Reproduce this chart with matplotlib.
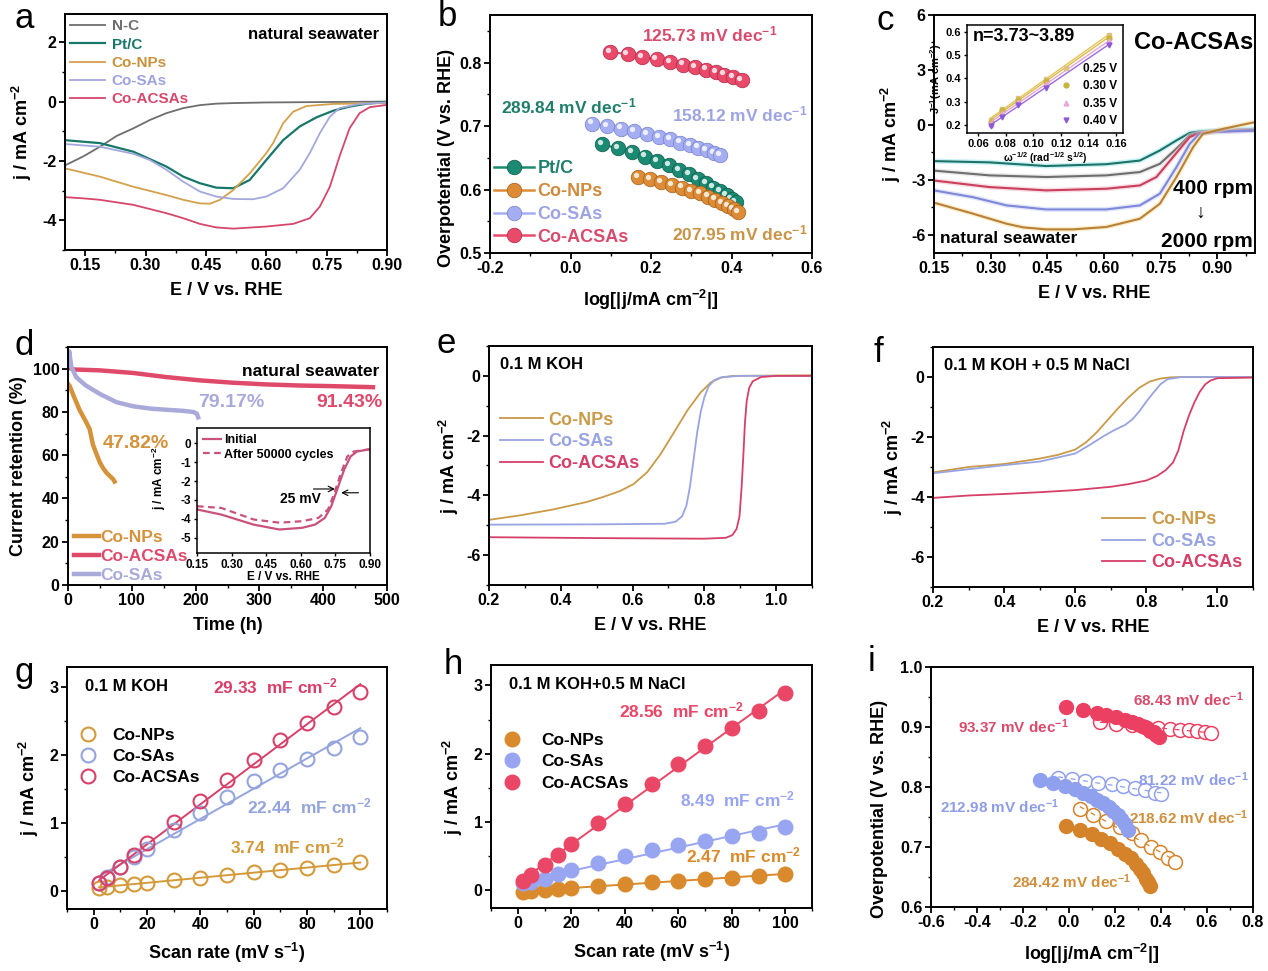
import numpy as np
import matplotlib.pyplot as plt
from matplotlib.ticker import AutoMinorLocator
from matplotlib.transforms import offset_copy

# ---------------- data ----------------
# (a) LSV in natural seawater
a_nc_E = [0.10, 0.145, 0.187, 0.228, 0.27, 0.311, 0.352, 0.394, 0.435, 0.476, 0.52, 0.60, 0.70, 0.80, 0.90]
a_nc_j = [-2.15, -1.85, -1.52, -1.16, -0.9, -0.62, -0.39, -0.22, -0.12, -0.07, -0.05, -0.03, -0.02, -0.01, 0.0]
a_pt_E = [0.10, 0.187, 0.27, 0.352, 0.394, 0.435, 0.476, 0.518, 0.559, 0.60, 0.642, 0.683, 0.725, 0.766, 0.807, 0.85, 0.90]
a_pt_j = [-1.3, -1.4, -1.69, -2.19, -2.53, -2.75, -2.9, -2.92, -2.64, -1.97, -1.3, -0.84, -0.53, -0.31, -0.17, -0.07, -0.02]
a_np_E = [0.10, 0.187, 0.27, 0.352, 0.394, 0.435, 0.46, 0.485, 0.518, 0.559, 0.60, 0.617, 0.642, 0.667, 0.70, 0.766, 0.90]
a_np_j = [-2.25, -2.53, -2.87, -3.15, -3.31, -3.43, -3.44, -3.31, -2.98, -2.42, -1.74, -1.4, -0.73, -0.34, -0.15, -0.08, -0.05]
a_sa_E = [0.10, 0.187, 0.27, 0.311, 0.352, 0.394, 0.435, 0.476, 0.518, 0.567, 0.60, 0.642, 0.683, 0.708, 0.733, 0.758, 0.782, 0.832, 0.90]
a_sa_j = [-1.43, -1.52, -1.76, -1.97, -2.3, -2.7, -3.03, -3.2, -3.28, -3.29, -3.2, -2.92, -2.3, -1.74, -1.07, -0.51, -0.22, -0.08, -0.03]
a_ac_E = [0.10, 0.145, 0.187, 0.27, 0.352, 0.394, 0.435, 0.476, 0.518, 0.60, 0.667, 0.708, 0.733, 0.758, 0.782, 0.807, 0.832, 0.857, 0.90]
a_ac_j = [-3.22, -3.26, -3.31, -3.48, -3.76, -3.93, -4.12, -4.24, -4.28, -4.21, -4.12, -3.93, -3.54, -2.87, -1.85, -0.9, -0.39, -0.19, -0.11]

# (b) Tafel plots
b_pt_x = [0.078, 0.118, 0.153, 0.186, 0.216, 0.245, 0.27, 0.294, 0.316, 0.336, 0.355, 0.372, 0.388, 0.40, 0.41]
b_pt_y = [0.671, 0.665, 0.659, 0.652, 0.645, 0.638, 0.631, 0.624, 0.617, 0.610, 0.603, 0.597, 0.591, 0.585, 0.580]
b_np_x = [0.167, 0.197, 0.225, 0.252, 0.277, 0.30, 0.322, 0.342, 0.36, 0.377, 0.392, 0.405, 0.416]
b_np_y = [0.620, 0.616, 0.612, 0.607, 0.603, 0.598, 0.594, 0.589, 0.584, 0.579, 0.574, 0.569, 0.565]
b_sa_x = [0.053, 0.09, 0.125, 0.158, 0.19, 0.22, 0.248, 0.273, 0.297, 0.318, 0.338, 0.356, 0.372]
b_sa_y = [0.704, 0.700, 0.696, 0.692, 0.687, 0.683, 0.679, 0.674, 0.670, 0.666, 0.662, 0.658, 0.654]
b_ac_x = [0.098, 0.142, 0.178, 0.214, 0.248, 0.279, 0.309, 0.336, 0.361, 0.382, 0.404, 0.425]
b_ac_y = [0.817, 0.813, 0.809, 0.805, 0.801, 0.797, 0.793, 0.789, 0.785, 0.781, 0.777, 0.773]

# (c) RDE curves of Co-ACSAs, 400 -> 2000 rpm
c_E1 = [0.15, 0.297, 0.447, 0.606, 0.695, 0.748, 0.792, 0.827, 0.853, 0.90, 1.0]
c_j400 = [-1.98, -2.05, -2.25, -2.15, -1.95, -1.4, -0.85, -0.44, -0.36, -0.3, -0.22]
c_j800 = [-2.5, -2.76, -2.85, -2.76, -2.58, -2.13, -1.3, -0.58, -0.42, -0.34, -0.27]
c_E3 = [0.15, 0.297, 0.447, 0.606, 0.695, 0.739, 0.783, 0.827, 0.853, 0.90, 1.0]
c_j1200 = [-3.04, -3.4, -3.58, -3.49, -3.31, -2.85, -1.76, -0.67, -0.45, -0.36, -0.3]
c_E4 = [0.15, 0.253, 0.342, 0.447, 0.606, 0.695, 0.748, 0.792, 0.827, 0.853, 0.90, 1.0]
c_j1600 = [-3.58, -3.95, -4.4, -4.62, -4.62, -4.4, -3.76, -2.31, -1.04, -0.49, -0.38, -0.31]
c_E5 = [0.15, 0.253, 0.342, 0.386, 0.447, 0.518, 0.606, 0.695, 0.748, 0.792, 0.836, 0.862, 0.915, 1.0]
c_j2000 = [-4.25, -4.85, -5.4, -5.6, -5.71, -5.71, -5.58, -5.13, -4.31, -2.85, -1.22, -0.49, -0.22, 0.15]
# inset K-L plot
kl_x = [0.0691, 0.0773, 0.0892, 0.1093, 0.1545]
kl_025 = [0.222, 0.270, 0.316, 0.396, 0.588]
kl_030 = [0.214, 0.262, 0.306, 0.389, 0.576]
kl_035 = [0.205, 0.250, 0.298, 0.375, 0.560]
kl_040 = [0.195, 0.236, 0.286, 0.360, 0.545]

# (d) chronoamperometry
d_ac_t = [0, 3, 10, 50, 102, 154, 206, 258, 311, 363, 415, 478]
d_ac_r = [101, 100.2, 99.6, 99.2, 98, 96.1, 94.6, 93.5, 92.7, 92.2, 91.9, 91.43]
d_sa_t = [0, 2, 5, 13, 28, 50, 76, 102, 130, 154, 180, 196, 202, 204]
d_sa_r = [102, 108, 101, 96, 92.2, 88.3, 84.5, 82.6, 81.5, 81, 80.5, 80, 79.17, 77.5]
d_np_t = [0, 2.6, 8, 13, 18, 23.5, 29, 34, 39, 44, 50, 55, 60, 65, 70.5, 73]
d_np_r = [93, 92, 88, 84.5, 81, 78, 75, 72, 65, 61, 56.6, 54, 52, 50.5, 49, 47.82]
# inset: before / after 50000 cycles
d_init_E = [0.15, 0.255, 0.395, 0.507, 0.606, 0.662, 0.704, 0.732, 0.76, 0.788, 0.816, 0.844, 0.90]
d_init_j = [-3.5, -3.77, -4.3, -4.56, -4.47, -4.3, -3.95, -3.33, -2.37, -1.4, -0.7, -0.44, -0.32]
d_aft_E = [0.15, 0.255, 0.395, 0.507, 0.606, 0.676, 0.718, 0.746, 0.774, 0.802, 0.83, 0.90]
d_aft_j = [-3.33, -3.42, -4.03, -4.2, -4.12, -3.95, -3.5, -2.63, -1.58, -0.7, -0.44, -0.32]

# (e) 0.1 M KOH
e_np_E = [0.2, 0.286, 0.379, 0.473, 0.519, 0.566, 0.603, 0.641, 0.678, 0.715, 0.753, 0.79, 0.818, 0.846, 0.88, 1.1]
e_np_j = [-4.82, -4.67, -4.47, -4.22, -4.05, -3.85, -3.62, -3.22, -2.62, -1.9, -1.15, -0.55, -0.22, -0.06, 0.0, 0.02]
e_sa_E = [0.2, 0.5, 0.69, 0.72, 0.738, 0.75, 0.76, 0.77, 0.78, 0.79, 0.80, 0.812, 0.828, 0.85, 0.9, 1.1]
e_sa_j = [-4.98, -4.97, -4.95, -4.88, -4.7, -4.35, -3.7, -2.8, -1.9, -1.2, -0.72, -0.35, -0.14, -0.04, 0.0, 0.0]
e_ac_E = [0.2, 0.5, 0.8, 0.86, 0.878, 0.89, 0.898, 0.904, 0.909, 0.913, 0.918, 0.925, 0.935, 0.958, 1.0, 1.1]
e_ac_j = [-5.4, -5.43, -5.45, -5.42, -5.33, -5.12, -4.7, -3.7, -2.59, -1.6, -0.85, -0.4, -0.18, -0.04, 0.0, 0.0]

# (f) 0.1 M KOH + 0.5 M NaCl
f_np_E = [0.2, 0.3, 0.4, 0.5, 0.55, 0.6, 0.63, 0.66, 0.69, 0.72, 0.75, 0.78, 0.81, 0.84, 0.87, 0.9, 1.1]
f_np_j = [-3.18, -3.0, -2.9, -2.72, -2.6, -2.42, -2.18, -1.85, -1.45, -1.05, -0.68, -0.36, -0.15, -0.05, -0.01, 0.0, 0.0]
f_sa_E = [0.2, 0.4, 0.5, 0.6, 0.64, 0.68, 0.71, 0.74, 0.76, 0.78, 0.80, 0.82, 0.84, 0.86, 0.9, 1.1]
f_sa_j = [-3.21, -2.94, -2.82, -2.55, -2.27, -1.97, -1.77, -1.6, -1.42, -1.15, -0.82, -0.52, -0.24, -0.07, 0.0, 0.0]
f_ac_E = [0.2, 0.3, 0.4, 0.5, 0.6, 0.7, 0.75, 0.8, 0.83, 0.855, 0.875, 0.89, 0.905, 0.92, 0.935, 0.95, 0.965, 0.98, 1.0, 1.1]
f_ac_j = [-4.03, -3.95, -3.9, -3.84, -3.77, -3.66, -3.57, -3.45, -3.3, -3.1, -2.85, -2.45, -1.8, -1.28, -0.85, -0.5, -0.25, -0.12, -0.04, -0.02]

# (g, h) double-layer capacitance
rate = [2, 5, 10, 15, 20, 30, 40, 50, 60, 70, 80, 90, 100]
g_np = [0.04, 0.06, 0.08, 0.10, 0.12, 0.16, 0.19, 0.23, 0.27, 0.30, 0.33, 0.38, 0.42]
g_sa = [0.12, 0.20, 0.35, 0.50, 0.62, 0.89, 1.14, 1.38, 1.62, 1.78, 1.95, 2.11, 2.26]
g_ac = [0.11, 0.18, 0.35, 0.52, 0.70, 1.01, 1.33, 1.64, 1.93, 2.22, 2.47, 2.71, 2.93]
h_np = [-0.02, -0.01, 0.0, 0.02, 0.04, 0.06, 0.09, 0.12, 0.14, 0.16, 0.18, 0.21, 0.24]
h_sa = [0.10, 0.12, 0.17, 0.24, 0.29, 0.40, 0.50, 0.59, 0.67, 0.72, 0.79, 0.84, 0.93]
h_ac = [0.13, 0.22, 0.37, 0.51, 0.68, 0.98, 1.27, 1.56, 1.85, 2.12, 2.38, 2.63, 2.89]

# (i) Tafel plots, filled = one electrolyte, open = the other
i_acf_x = [-0.014, 0.062, 0.12, 0.163, 0.206, 0.243, 0.272, 0.298, 0.319, 0.337, 0.354, 0.369, 0.380, 0.392]
i_acf_y = [0.933, 0.929, 0.924, 0.920, 0.916, 0.912, 0.909, 0.905, 0.902, 0.898, 0.894, 0.891, 0.887, 0.8825]
i_aco_x = [0.134, 0.206, 0.272, 0.330, 0.387, 0.438, 0.482, 0.522, 0.557, 0.590, 0.616]
i_aco_y = [0.909, 0.905, 0.9025, 0.900, 0.8986, 0.897, 0.8953, 0.8942, 0.893, 0.8914, 0.8897]
i_saf_x = [-0.127, -0.069, -0.018, 0.026, 0.062, 0.094, 0.123, 0.149, 0.172, 0.192, 0.211, 0.228, 0.243, 0.257]
i_saf_y = [0.812, 0.807, 0.802, 0.796, 0.7905, 0.785, 0.779, 0.774, 0.767, 0.760, 0.753, 0.746, 0.738, 0.729]
i_sao_x = [-0.047, 0.011, 0.069, 0.127, 0.185, 0.235, 0.286, 0.330, 0.373, 0.402]
i_sao_y = [0.8156, 0.8128, 0.810, 0.8072, 0.8045, 0.8017, 0.7989, 0.795, 0.7905, 0.7877]
i_npf_x = [-0.011, 0.047, 0.098, 0.141, 0.180, 0.214, 0.243, 0.269, 0.290, 0.308, 0.322, 0.334, 0.344, 0.351]
i_npf_y = [0.735, 0.728, 0.721, 0.714, 0.706, 0.6975, 0.689, 0.681, 0.672, 0.664, 0.656, 0.647, 0.641, 0.635]
i_npo_x = [0.047, 0.105, 0.163, 0.221, 0.272, 0.315, 0.358, 0.395, 0.431, 0.460]
i_npo_y = [0.763, 0.753, 0.744, 0.734, 0.723, 0.711, 0.700, 0.691, 0.6825, 0.675]

# ---------------- style ----------------
plt.rcParams.update({
    'font.family': 'Liberation Sans',
    'font.weight': 'bold',
    'axes.labelweight': 'bold',
    'axes.linewidth': 1.4,
    'axes.unicode_minus': False,
    'mathtext.fontset': 'custom',
    'mathtext.rm': 'Liberation Sans:bold',
    'mathtext.it': 'Liberation Sans:bold',
    'mathtext.bf': 'Liberation Sans:bold',
    'mathtext.default': 'rm',
    'xtick.labelsize': 11.5,
    'ytick.labelsize': 11.5,
    'axes.labelsize': 13,
    'legend.frameon': False,
})

GRAY = '#6e6e6e'
TEAL = '#17786a'
ORANGE = '#d3a04c'
PURPLE = '#a3a8dc'
RED = '#d6476c'

W, H = 1268, 971
fig = plt.figure(figsize=(W / 100, H / 100), dpi=100)


def axes_px(x0, y0, x1, y1):
    return fig.add_axes([x0 / W, 1 - y1 / H, (x1 - x0) / W, (y1 - y0) / H])


def style(ax, size=None):
    ax.tick_params(which='major', direction='out', length=4, width=1.3, pad=2)
    ax.tick_params(which='minor', direction='out', length=2.5, width=1)
    ax.xaxis.set_minor_locator(AutoMinorLocator(2))
    ax.yaxis.set_minor_locator(AutoMinorLocator(2))
    if size:
        ax.tick_params(labelsize=size)


def color_texts(leg, colors):
    for t, c in zip(leg.get_texts(), colors):
        t.set_color(c)


def panel_label(x, y, s):
    fig.text(x / W, 1 - y / H, s, fontsize=25, fontweight='normal', va='top', ha='left')


# ---------------- (a) ----------------
ax = axes_px(65, 14, 387, 250)
ax.plot(a_nc_E, a_nc_j, color=GRAY, lw=1.3, label='N-C')
ax.plot(a_pt_E, a_pt_j, color=TEAL, lw=1.6, label='Pt/C')
ax.plot(a_np_E, a_np_j, color=ORANGE, lw=1.3, label='Co-NPs')
ax.plot(a_sa_E, a_sa_j, color=PURPLE, lw=1.3, label='Co-SAs')
ax.plot(a_ac_E, a_ac_j, color=RED, lw=1.3, label='Co-ACSAs')
ax.set_xlim(0.1, 0.9)
ax.set_ylim(-5, 2.95)
ax.set_xticks([0.15, 0.30, 0.45, 0.60, 0.75, 0.90])
ax.set_xticklabels(['0.15', '0.30', '0.45', '0.60', '0.75', '0.90'])
ax.set_yticks([-4, -2, 0, 2])
ax.set_xlabel('E / V vs. RHE', labelpad=6)
ax.set_ylabel('j / mA cm$^{-2}$', labelpad=6)
style(ax)
leg = ax.legend(loc='upper left', bbox_to_anchor=(0.0, 1.0), fontsize=11, handlelength=2.3,
                handletextpad=0.4, labelspacing=0.28, borderaxespad=0.25, borderpad=0.1)
color_texts(leg, [GRAY, TEAL, '#c8923c', '#9ea3dc', RED])
ax.text(0.975, 0.945, 'natural seawater', transform=ax.transAxes, ha='right', va='top', fontsize=12)
panel_label(14, 2, 'a')

# ---------------- (b) ----------------
ax = axes_px(490, 15, 812, 253)
b_series = [('Pt/C', b_pt_x, b_pt_y, '#1b8a73', '#0d5a4a'),
            ('Co-NPs', b_np_x, b_np_y, '#dc8c36', '#a35e18'),
            ('Co-SAs', b_sa_x, b_sa_y, '#a5aef2', '#7480c8'),
            ('Co-ACSAs', b_ac_x, b_ac_y, '#ea4a6a', '#b02848')]
hl = offset_copy(ax.transData, fig=fig, x=-2.2, y=2.2, units='dots')
z = 3
for name, xs, ys, c, ec in b_series:
    ax.plot(xs, ys, '-', color=c, lw=1.5, zorder=2)
    for xi, yi in zip(xs, ys):
        ax.plot([xi], [yi], 'o', ms=10.5, mfc=c, mec=ec, mew=0.5, zorder=z)
        ax.plot([xi], [yi], 'o', ms=3.8, mfc='white', mec='none', alpha=0.8, transform=hl, zorder=z + 1)
        z += 2
    ax.plot([], [], '-o', color=c, ms=10.5, mec=ec, mew=0.5, lw=1.8, label=name)
ax.set_xlim(-0.2, 0.6)
ax.set_ylim(0.5, 0.875)
ax.set_xticks([-0.2, 0.0, 0.2, 0.4, 0.6])
ax.set_yticks([0.5, 0.6, 0.7, 0.8])
ax.set_xlabel('log[|j/mA cm$^{-2}$|]', labelpad=8)
ax.set_ylabel('Overpotential (V vs. RHE)')
ax.yaxis.set_label_coords(-0.108, 0.40)
style(ax)
leg = ax.legend(loc='lower left', bbox_to_anchor=(-0.02, -0.015), fontsize=13, handlelength=2.2,
                handletextpad=0.2, labelspacing=0.32, borderaxespad=0.2)
color_texts(leg, ['#1f7f6c', '#cf8a3c', '#9ea4e2', '#d94b6c'])
ax.text(0.345, 0.845, '125.73 mV dec$^{-1}$', color='#d94b6c', ha='center', va='center', fontsize=12.5)
ax.text(-0.005, 0.731, '289.84 mV dec$^{-1}$', color='#1f7f6c', ha='center', va='center', fontsize=12.5)
ax.text(0.42, 0.719, '158.12 mV dec$^{-1}$', color='#9ea4e2', ha='center', va='center', fontsize=12.5)
ax.text(0.42, 0.531, '207.95 mV dec$^{-1}$', color='#c99447', ha='center', va='center', fontsize=12.5)
panel_label(438, 0, 'b')

# ---------------- (c) ----------------
ax = axes_px(934, 15, 1255, 253)
c_series = [(c_E1, c_j400, '#1e7266', '#86e4ee'),
            (c_E1, c_j800, '#6e6e6e', '#d4d4d4'),
            (c_E3, c_j1200, '#c8405c', '#f2b4c4'),
            (c_E4, c_j1600, '#7d88d8', '#c4cbf8'),
            (c_E5, c_j2000, '#b88038', '#f8dc94')]
for Es, js, c, glow in c_series:
    ax.plot(Es, js, color=glow, lw=3.6, alpha=0.45, solid_capstyle='round')
    ax.plot(Es, js, color=c, lw=1.5)
ax.set_xlim(0.15, 1.0)
ax.set_ylim(-7, 6)
ax.set_xticks([0.15, 0.30, 0.45, 0.60, 0.75, 0.90])
ax.set_xticklabels(['0.15', '0.30', '0.45', '0.60', '0.75', '0.90'])
ax.set_yticks([-6, -3, 0, 3, 6])
ax.set_xlabel('E / V vs. RHE', labelpad=6)
ax.set_ylabel('j / mA cm$^{-2}$', labelpad=6)
style(ax)
ax.text(0.995, 4.5, 'Co-ACSAs', ha='right', va='center', fontsize=17)
ax.text(0.995, -3.5, '400 rpm', ha='right', va='center', fontsize=15)
ax.text(0.855, -4.85, '\u2193', ha='center', va='center', fontsize=14, family=['Liberation Sans', 'DejaVu Sans'])
ax.text(0.995, -6.35, '2000 rpm', ha='right', va='center', fontsize=15)
ax.text(0.165, -6.2, 'natural seawater', ha='left', va='center', fontsize=12.5)
panel_label(876, 4, 'c')

# inset K-L
ai = axes_px(967, 25, 1123, 133)
kl_sets = [('0.25 V', kl_025, 's', '#dcc283', '#e8c25c'),
           ('0.30 V', kl_030, 'o', '#c9b43e', '#d8bf48'),
           ('0.35 V', kl_035, '^', '#eaa8d8', '#eaa4d6'),
           ('0.40 V', kl_040, 'v', '#8c5ad8', '#9a6ae0')]
kx = np.array(kl_x)
for name, ys, m, mc, lc in kl_sets:
    k, b0 = np.polyfit(kx, ys, 1)
    ends = np.array([kx.min(), kx.max()])
    ai.plot(ends, k * ends + b0, color=lc, lw=1.0)
    ai.plot(kx, ys, m, ms=3.5, color=mc, label=name)
ai.set_xlim(0.052, 0.165)
ai.set_ylim(0.165, 0.63)
ai.set_xticks([0.06, 0.08, 0.10, 0.12, 0.14, 0.16])
ai.set_xticklabels(['0.06', '0.08', '0.10', '0.12', '0.14', '0.16'])
ai.set_yticks([0.2, 0.3, 0.4, 0.5, 0.6])
ai.tick_params(labelsize=8, length=2.5, width=1, pad=1.5)
for s in ai.spines.values():
    s.set_linewidth(1.1)
ai.set_ylabel('J$^{-1}$(mA cm$^{-2}$)', fontsize=8, labelpad=1)
ai.set_xlabel('\u03c9$^{-1/2}$ (rad$^{-1/2}$ s$^{1/2}$)', fontsize=7.5, labelpad=1)
ai.legend(loc='lower right', fontsize=8.5, handlelength=1.0, handletextpad=0.9, labelspacing=0.45,
          borderaxespad=0.1)
ai.text(0.04, 0.97, 'n=3.73~3.89', transform=ai.transAxes, ha='left', va='top', fontsize=13)

# ---------------- (d) ----------------
ax = axes_px(68, 347, 387, 585)
ax.plot(d_np_t, d_np_r, color='#d4923a', lw=3.2, label='Co-NPs')
ax.plot(d_ac_t, d_ac_r, color='#e04a6a', lw=3.2, label='Co-ACSAs')
ax.plot(d_sa_t, d_sa_r, color='#a9a9da', lw=3.2, label='Co-SAs')
ax.set_xlim(0, 500)
ax.set_ylim(0, 110)
ax.set_xticks([0, 100, 200, 300, 400, 500])
ax.set_yticks([0, 20, 40, 60, 80, 100])
ax.set_xlabel('Time (h)', labelpad=6)
ax.set_ylabel('Current retention (%)', labelpad=4)
style(ax)
leg = ax.legend(loc='lower left', bbox_to_anchor=(-0.015, -0.035), fontsize=12.5, handlelength=1.45,
                handletextpad=0.1, labelspacing=0.22, borderaxespad=0.2)
color_texts(leg, ['#d4923a', '#df4a6c', '#a9a9da'])
ax.text(0.975, 0.93, 'natural seawater', transform=ax.transAxes, ha='right', va='top', fontsize=12.5)
ax.text(256, 84.5, '79.17%', color='#a9aadb', ha='center', va='center', fontsize=14)
ax.text(441, 84.5, '91.43%', color='#df4a6c', ha='center', va='center', fontsize=14)
ax.text(107, 65.5, '47.82%', color='#d4923a', ha='center', va='center', fontsize=14)
panel_label(14, 329, 'd')

# inset cycling
ai = axes_px(197, 428, 370, 553)
ai.plot(d_init_E, d_init_j, color='#c9527c', lw=1.6, label='Initial')
ai.plot(d_aft_E, d_aft_j, color='#c9527c', lw=1.6, ls=(0, (3, 2)), label='After 50000 cycles')
ai.set_xlim(0.15, 0.9)
ai.set_ylim(-5.8, 0.8)
ai.set_xticks([0.15, 0.30, 0.45, 0.60, 0.75, 0.90])
ai.set_xticklabels(['0.15', '0.30', '0.45', '0.60', '0.75', '0.90'])
ai.set_yticks([-5, -4, -3, -2, -1, 0])
ai.tick_params(labelsize=8.5, length=2.5, width=1, pad=1.5)
for s in ai.spines.values():
    s.set_linewidth(1.1)
ai.set_xlabel('E / V vs. RHE', fontsize=8.5, labelpad=0.5)
ai.set_ylabel('j / mA cm$^{-2}$', fontsize=8.5, labelpad=1)
ai.yaxis.set_label_coords(-0.17, 0.6)
ai.legend(loc='upper left', fontsize=9, handlelength=1.4, handletextpad=0.3, labelspacing=0.2,
          borderaxespad=0.1)
ai.annotate('', xy=(0.748, -2.42), xytext=(0.655, -2.42),
            arrowprops=dict(arrowstyle='->', lw=0.8, color='black', shrinkA=0, shrinkB=0))
ai.annotate('', xy=(0.775, -2.62), xytext=(0.85, -2.62),
            arrowprops=dict(arrowstyle='->', lw=0.8, color='black', shrinkA=0, shrinkB=0))
ai.text(0.60, -2.95, '25 mV', ha='center', va='center', fontsize=10)

# ---------------- (e) ----------------
ax = axes_px(489, 346, 812, 585)
ax.plot(e_np_E, e_np_j, color='#c99a48', lw=1.3, label='Co-NPs')
ax.plot(e_sa_E, e_sa_j, color='#98a4e2', lw=1.3, label='Co-SAs')
ax.plot(e_ac_E, e_ac_j, color='#d63f68', lw=1.3, label='Co-ACSAs')
ax.set_xlim(0.2, 1.1)
ax.set_ylim(-7, 1)
ax.set_xticks([0.2, 0.4, 0.6, 0.8, 1.0])
ax.set_yticks([-6, -4, -2, 0])
ax.set_xlabel('E / V vs. RHE', labelpad=6)
ax.set_ylabel('j / mA cm$^{-2}$', labelpad=4)
style(ax)
leg = ax.legend(loc='upper left', bbox_to_anchor=(0.0, 0.77), fontsize=13, handlelength=2.4,
                handletextpad=0.3, labelspacing=0.25, borderaxespad=0.2)
color_texts(leg, ['#c99a48', '#98a4e2', '#d63f68'])
ax.text(0.035, 0.955, '0.1 M KOH', transform=ax.transAxes, ha='left', va='top', fontsize=12)
panel_label(436, 327, 'e')

# ---------------- (f) ----------------
ax = axes_px(933, 347, 1253, 587)
ax.plot(f_np_E, f_np_j, color='#c99a48', lw=1.3, label='Co-NPs')
ax.plot(f_sa_E, f_sa_j, color='#98a4e2', lw=1.3, label='Co-SAs')
ax.plot(f_ac_E, f_ac_j, color='#d63f68', lw=1.3, label='Co-ACSAs')
ax.set_xlim(0.2, 1.1)
ax.set_ylim(-7, 1)
ax.set_xticks([0.2, 0.4, 0.6, 0.8, 1.0])
ax.set_yticks([-6, -4, -2, 0])
ax.set_xlabel('E / V vs. RHE', labelpad=6)
ax.set_ylabel('j / mA cm$^{-2}$', labelpad=4)
style(ax)
leg = ax.legend(loc='lower right', bbox_to_anchor=(1.0, 0.02), fontsize=13, handlelength=2.4,
                handletextpad=0.3, labelspacing=0.25, borderaxespad=0.2)
color_texts(leg, ['#c99a48', '#98a4e2', '#d63f68'])
ax.text(0.035, 0.955, '0.1 M KOH + 0.5 M NaCl', transform=ax.transAxes, ha='left', va='top', fontsize=12)
panel_label(874, 336, 'f')

# ---------------- (g) ----------------
ax = axes_px(67, 667, 387, 909)
rx = np.array(rate, dtype=float)
g_series = [('Co-NPs', g_np, '#d49a3a'), ('Co-SAs', g_sa, '#94a4dc'), ('Co-ACSAs', g_ac, '#d8406a')]
for name, ys, c in g_series:
    k, b0 = np.polyfit(rx, ys, 1)
    ax.plot(rx, k * rx + b0, color=c, lw=1.4)
for name, ys, c in g_series:
    ax.plot(rx, ys, 'o', ms=10, mfc='none', mec=c, mew=1.5, label=name)
ax.set_xlim(-10, 110)
ax.set_ylim(-0.27, 3.3)
ax.set_xticks([0, 20, 40, 60, 80, 100])
ax.set_yticks([0, 1, 2, 3])
ax.set_xlabel('Scan rate (mV s$^{-1}$)', labelpad=6)
ax.set_ylabel('j / mA cm$^{-2}$', labelpad=6)
style(ax)
ax.legend(loc='upper left', bbox_to_anchor=(0.0, 0.80), fontsize=12.5, handlelength=1.0,
          handletextpad=0.9, labelspacing=0.35, borderaxespad=0.3)
ax.text(0.055, 0.95, '0.1 M KOH', transform=ax.transAxes, ha='left', va='top', fontsize=12)
ax.text(68, 3.02, '29.33  mF cm$^{-2}$', color='#d8406a', ha='center', va='center', fontsize=12.5)
ax.text(81, 1.24, '22.44  mF cm$^{-2}$', color='#94a4dc', ha='center', va='center', fontsize=12.5)
ax.text(72.5, 0.65, '3.74  mF cm$^{-2}$', color='#d49a3a', ha='center', va='center', fontsize=12.5)
panel_label(14, 656, 'g')

# ---------------- (h) ----------------
ax = axes_px(491, 665, 812, 908)
h_series = [('Co-NPs', h_np, '#d98a2c'), ('Co-SAs', h_sa, '#98a5f0'), ('Co-ACSAs', h_ac, '#ea4766')]
for name, ys, c in h_series:
    k, b0 = np.polyfit(rx, ys, 1)
    ax.plot(rx, k * rx + b0, color=c, lw=1.4)
for name, ys, c in h_series:
    ax.plot(rx, ys, 'o', ms=10.5, color=c, label=name)
ax.set_xlim(-10, 110)
ax.set_ylim(-0.26, 3.3)
ax.set_xticks([0, 20, 40, 60, 80, 100])
ax.set_yticks([0, 1, 2, 3])
ax.set_xlabel('Scan rate (mV s$^{-1}$)', labelpad=6)
ax.set_ylabel('j / mA cm$^{-2}$', labelpad=6)
style(ax)
ax.legend(loc='upper left', bbox_to_anchor=(0.0, 0.77), fontsize=12.5, handlelength=1.0,
          handletextpad=1.2, labelspacing=0.35, borderaxespad=0.3)
ax.text(0.055, 0.95, '0.1 M KOH+0.5 M NaCl', transform=ax.transAxes, ha='left', va='top', fontsize=12)
ax.text(61, 2.64, '28.56  mF cm$^{-2}$', color='#ea4766', ha='center', va='center', fontsize=12.5)
ax.text(82, 1.33, '8.49  mF cm$^{-2}$', color='#98a5f0', ha='center', va='center', fontsize=12.5)
ax.text(84.5, 0.51, '2.47  mF cm$^{-2}$', color='#d98a2c', ha='center', va='center', fontsize=12.5)
panel_label(444, 648, 'h')

# ---------------- (i) ----------------
ax = axes_px(931, 667, 1253, 907)
i_open = [(i_aco_x, i_aco_y, '#ec4062'), (i_sao_x, i_sao_y, '#8fa0ee'), (i_npo_x, i_npo_y, '#d5832a')]
i_fill = [(i_acf_x, i_acf_y, '#ec4062'), (i_saf_x, i_saf_y, '#8fa0ee'), (i_npf_x, i_npf_y, '#d5832a')]
for xs, ys, c in i_open:
    ax.plot(xs, ys, 'o', ms=10, mfc='white', mec=c, mew=1.1, zorder=2)
    k, b0 = np.polyfit(xs, ys, 1)
    xx = np.array([min(xs), max(xs)])
    ax.plot(xx, k * xx + b0, color=c, lw=0.9, ls=(0, (4, 6)), zorder=3)
for xs, ys, c in i_fill:
    ax.plot(xs, ys, 'o', ms=10, color=c, zorder=4)
ax.set_xlim(-0.6, 0.8)
ax.set_ylim(0.6, 1.0)
ax.set_xticks([-0.6, -0.4, -0.2, 0.0, 0.2, 0.4, 0.6, 0.8])
ax.set_yticks([0.6, 0.7, 0.8, 0.9, 1.0])
ax.set_xlabel('log[|j/mA cm$^{-2}$|]', labelpad=8)
ax.set_ylabel('Overpotential (V vs. RHE)')
ax.yaxis.set_label_coords(-0.135, 0.41)
style(ax)
ax.text(0.518, 0.946, '68.43 mV dec$^{-1}$', color='#d94b6c', ha='center', va='center', fontsize=11)
ax.text(-0.24, 0.90, '93.37 mV dec$^{-1}$', color='#d94b6c', ha='center', va='center', fontsize=11)
ax.text(0.54, 0.812, '81.22 mV dec$^{-1}$', color='#8f9de6', ha='center', va='center', fontsize=11)
ax.text(-0.30, 0.768, '212.98 mV dec$^{-1}$', color='#8f9de6', ha='center', va='center', fontsize=11)
ax.text(0.52, 0.749, '218.62 mV dec$^{-1}$', color='#cf8f3c', ha='center', va='center', fontsize=11)
ax.text(0.01, 0.642, '284.42 mV dec$^{-1}$', color='#cf8f3c', ha='center', va='center', fontsize=11)
panel_label(868, 645, 'i')

fig.savefig('out.png', dpi=100)
